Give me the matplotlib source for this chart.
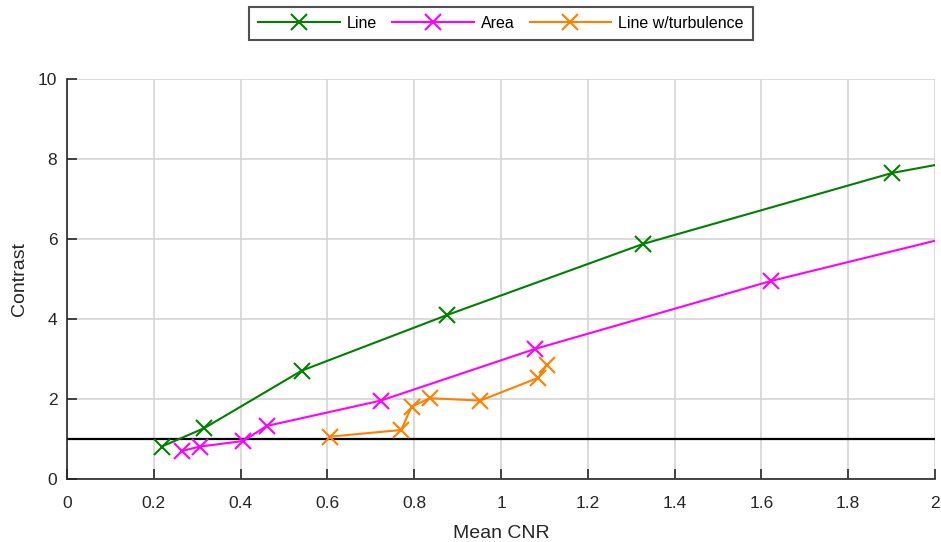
import matplotlib
matplotlib.use("Agg")
import matplotlib.pyplot as plt

plt.rcParams['font.family'] = ['Liberation Sans', 'DejaVu Sans']

line_x = [0.218, 0.316, 0.541, 0.876, 1.327, 1.901, 2.30]
line_y = [0.81, 1.27, 2.71, 4.10, 5.875, 7.65, 8.45]

area_x = [0.264, 0.306, 0.406, 0.460, 0.723, 1.078, 1.622, 2.40]
area_y = [0.70, 0.81, 0.95, 1.325, 1.96, 3.25, 4.95, 7.02]

turb_x = [0.607, 0.770, 0.794, 0.836, 0.952, 1.086, 1.105]
turb_y = [1.06, 1.225, 1.81, 2.02, 1.96, 2.53, 2.85]

xticks = [0, 0.2, 0.4, 0.6, 0.8, 1, 1.2, 1.4, 1.6, 1.8, 2]
xtick_labels = ['0', '0.2', '0.4', '0.6', '0.8', '1', '1.2', '1.4', '1.6', '1.8', '2']
yticks = [0, 2, 4, 6, 8, 10]

fig = plt.figure(figsize=(9.41, 5.42), dpi=100)
ax = fig.add_axes([67/941, 1 - 479/542, (935-67)/941, (479-79)/542])

kw = dict(marker='x', markersize=11, markeredgewidth=1.5, linewidth=1.5)
h1, = ax.plot(line_x, line_y, color='#008000', label='Line', **kw)
h2, = ax.plot(area_x, area_y, color='#ff00ff', label='Area', **kw)
h3, = ax.plot(turb_x, turb_y, color='#ff8000', label='Line w/turbulence', **kw)
ax.axhline(1, color='black', linewidth=1.6, zorder=1.5)

ax.set_xlim(0, 2)
ax.set_ylim(0, 10)
ax.set_xticks(xticks)
ax.set_xticklabels(xtick_labels)
ax.set_yticks(yticks)
ax.grid(True, color='#d4d4d4', linewidth=1.2)
ax.set_axisbelow(True)
for s in ['top', 'right']:
    ax.spines[s].set_visible(False)
for s in ['left', 'bottom']:
    ax.spines[s].set_color('#262626')
    ax.spines[s].set_linewidth(1.2)
ax.tick_params(direction='in', length=7, width=1.2, colors='#262626', labelsize=12.5)
ax.tick_params(axis='x', pad=12)
ax.tick_params(axis='y', pad=7)
ax.set_xlabel('Mean CNR', fontsize=14, color='#262626', labelpad=10)
ax.set_ylabel('Contrast', fontsize=14, color='#262626', labelpad=7)

leg = fig.legend(handles=[h1, h2, h3], loc='center', bbox_to_anchor=(501/941, 1 - 23.5/542),
                 ncol=3, fontsize=11.5, frameon=True, fancybox=False, edgecolor='#262626',
                 handlelength=5.1, handletextpad=0.45, columnspacing=0.95, borderpad=0.55,
                 borderaxespad=0)
leg.get_frame().set_linewidth(1.5)

fig.savefig('out.png', dpi=100)
